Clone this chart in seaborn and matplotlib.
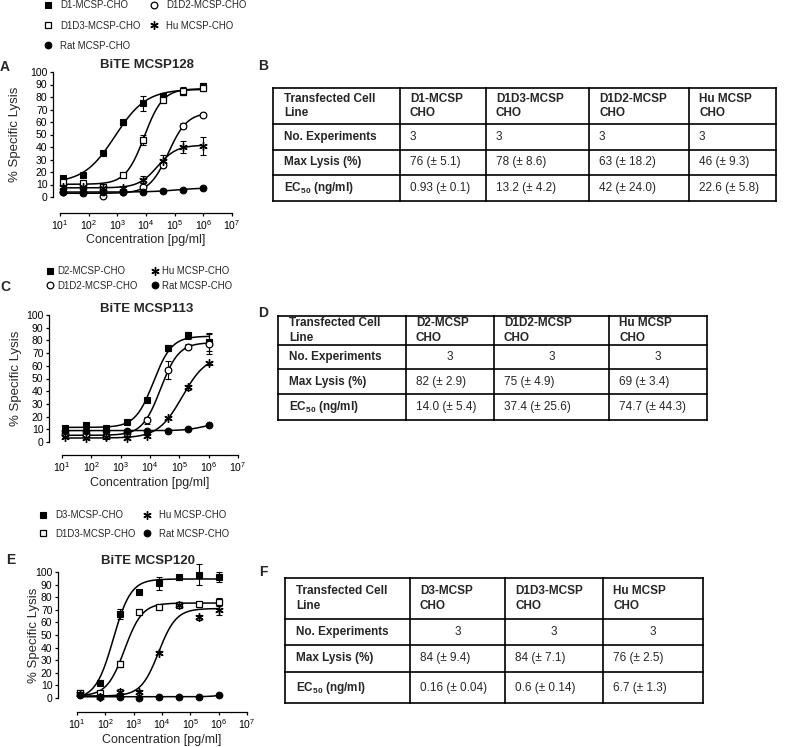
import numpy as np
import pandas as pd
import seaborn as sns
import matplotlib
matplotlib.use("Agg")
import matplotlib.pyplot as plt
from matplotlib.lines import Line2D
from matplotlib.ticker import FixedLocator, NullLocator

# ------------------------------------------------------------
# donnees
# ------------------------------------------------------------
conc = [12.8, 64, 320, 1600, 8000, 40000, 200000, 1000000]  # pg/ml, dilutions 1:5

# A - BiTE MCSP128
a_d1 = [15, 18, 35, 60, 75, 81, 84, 89]
a_d1_err = [1, 1, 1, 2, 6, 2, 2, 2]
a_d1d3 = [12, 11, 8, 18, 46, 78, 85, 87]
a_d1d3_err = [1, 1, 1, 1, 4, 2, 3, 2]
a_d1d2 = [4, 3, 1, 4, 8, 26, 57, 66]
a_d1d2_err = [1, 1, 1, 1, 3, 2, 2, 1]
a_hu = [8, 8, 7, 7, 14, 29, 40, 41]
a_hu_err = [1, 1, 1, 1, 3, 5, 5, 7]
a_rat = [4, 4, 4, 4, 4, 5, 6, 7]
a_rat_err = [0.5, 0.5, 0.5, 0.5, 0.5, 0.5, 0.5, 0.5]

# C - BiTE MCSP113
c_d2 = [11, 13, 11, 16, 33, 74, 84, 79]
c_d2_err = [1, 1, 1, 1, 1, 2, 3, 7]
c_d1d2 = [6, 6, 5, 7, 17, 57, 75, 77]
c_d1d2_err = [1, 1, 1, 1, 3, 7, 2, 8]
c_hu = [4, 3, 4, 3, 5, 19, 43, 62]
c_hu_err = [1, 1, 1, 1, 1, 1, 2, 1]
c_rat = [9, 9, 9, 9, 9, 9, 10, 13]
c_rat_err = [0.5, 0.5, 0.5, 0.5, 0.5, 0.5, 0.5, 0.5]

# E - BiTE MCSP120
e_d3 = [4, 12, 67, 84, 91, 96, 98, 96]
e_d3_err = [1, 2, 4, 1, 5, 2, 8, 4]
e_d1d3 = [4, 4, 27, 68, 72, 74, 75, 76]
e_d1d3_err = [1, 1, 2, 1, 1, 1, 1, 3]
e_hu = [3, 1, 5, 5, 36, 74, 64, 70]
e_hu_err = [1, 1, 2, 1, 1, 2, 2, 4]
e_rat = [2, 1, 1, 0, 1, 1, 1, 2]
e_rat_err = [0.5, 0.5, 0.5, 0.5, 0.5, 0.5, 0.5, 0.5]

# tableaux
row_labels = ["Transfected Cell\nLine", "No. Experiments", "Max Lysis (%)",
              r"EC$_{\mathbf{50}}$ (ng/ml)"]
b_cols = ["D1-MCSP\nCHO", "D1D3-MCSP\nCHO", "D1D2-MCSP\nCHO", "Hu MCSP\nCHO"]
b_exp = ["3", "3", "3", "3"]
b_max = ["76 (± 5.1)", "78 (± 8.6)", "63 (± 18.2)", "46 (± 9.3)"]
b_ec50 = ["0.93 (± 0.1)", "13.2 (± 4.2)", "42 (± 24.0)", "22.6 (± 5.8)"]
d_cols = ["D2-MCSP\nCHO", "D1D2-MCSP\nCHO", "Hu MCSP\nCHO"]
d_exp = ["3", "3", "3"]
d_max = ["82 (± 2.9)", "75 (± 4.9)", "69 (± 3.4)"]
d_ec50 = ["14.0 (± 5.4)", "37.4 (± 25.6)", "74.7 (± 44.3)"]
f_cols = ["D3-MCSP\nCHO", "D1D3-MCSP\nCHO", "Hu MCSP\nCHO"]
f_exp = ["3", "3", "3"]
f_max = ["84 (± 9.4)", "84 (± 7.1)", "76 (± 2.5)"]
f_ec50 = ["0.16 (± 0.04)", "0.6 (± 0.14)", "6.7 (± 1.3)"]

# ------------------------------------------------------------
# style
# ------------------------------------------------------------
sns.set_theme(style="ticks")
plt.rcParams["font.family"] = ["Liberation Sans", "DejaVu Sans"]
plt.rcParams["mathtext.fontset"] = "custom"
plt.rcParams["mathtext.rm"] = "Liberation Sans"
plt.rcParams["mathtext.it"] = "Liberation Sans:italic"
plt.rcParams["mathtext.bf"] = "Liberation Sans:bold"

W, H = 793, 747
fig = plt.figure(figsize=(W / 100, H / 100), dpi=100)

STAR = (6, 2, 0)
STYLE = {
    "D1-MCSP-CHO": dict(marker="s", mfc="black", ms=4.8, mew=0.8),
    "D2-MCSP-CHO": dict(marker="s", mfc="black", ms=4.8, mew=0.8),
    "D3-MCSP-CHO": dict(marker="s", mfc="black", ms=4.8, mew=0.8),
    "D1D3-MCSP-CHO": dict(marker="s", mfc="white", ms=4.8, mew=0.9),
    "D1D2-MCSP-CHO": dict(marker="o", mfc="white", ms=4.8, mew=0.9),
    "Hu MCSP-CHO": dict(marker=STAR, mfc="black", ms=6.0, mew=1.0),
    "Rat MCSP-CHO": dict(marker="o", mfc="black", ms=4.8, mew=0.8),
}


def fit4pl(x, y):
    # ajustement sigmoide 4 parametres (grille sur EC50 / pente, moindres carres pour bas / haut)
    lx = np.log10(np.asarray(x, float))
    y = np.asarray(y, float)
    cs, hs = np.meshgrid(np.linspace(1, 8, 351), np.linspace(0.6, 1.4, 41))
    cs, hs = cs.ravel(), hs.ravel()
    S = 1 / (1 + 10 ** ((cs[:, None] - lx[None, :]) * hs[:, None]))
    Sm = S.mean(1)
    ym = y.mean()
    a = ((S - Sm[:, None]) * (y - ym)).sum(1) / (((S - Sm[:, None]) ** 2).sum(1) + 1e-12)
    b = ym - a * Sm
    res = ((b[:, None] + a[:, None] * S - y) ** 2).sum(1)
    k = np.nanargmin(res)
    return b[k], b[k] + a[k], cs[k], hs[k]


def px_axes(x0, x1, ytop, ybot):
    return fig.add_axes([x0 / W, 1 - ybot / H, (x1 - x0) / W, (ybot - ytop) / H])


def draw_panel(ax, series, title, title_x, title_pad, off_left, off_bottom, ylab_x, xlab_y):
    xs = np.logspace(np.log10(conc[0]), np.log10(conc[-1]), 200)
    for name, vals, errs in series:
        bot, top, c50, hill = fit4pl(conc, vals)
        curve = pd.DataFrame({"x": xs, "y": bot + (top - bot) / (1 + 10 ** ((c50 - np.log10(xs)) * hill))})
        sns.lineplot(data=curve, x="x", y="y", ax=ax, color="black", lw=1.1, zorder=2)
    for name, vals, errs in series:
        st = STYLE[name]
        ax.errorbar(conc, vals, yerr=errs, fmt="none", ecolor="black", elinewidth=0.8,
                    capsize=2.2, capthick=0.8, zorder=3, clip_on=False)
        ax.plot(conc, vals, ls="none", marker=st["marker"], ms=st["ms"], mfc=st["mfc"],
                mec="black", mew=st["mew"], zorder=4, clip_on=False)
    ax.set_xscale("log")
    ax.set_xlim(10, 1e7)
    ax.set_ylim(0, 100)
    ax.xaxis.set_major_locator(FixedLocator([1e1, 1e2, 1e3, 1e4, 1e5, 1e6, 1e7]))
    ax.xaxis.set_minor_locator(NullLocator())
    ax.set_yticks(range(0, 101, 10))
    for s in ["top", "right"]:
        ax.spines[s].set_visible(False)
    ax.spines["left"].set_position(("outward", off_left * 0.72))
    ax.spines["bottom"].set_position(("outward", off_bottom * 0.72))
    ax.spines["left"].set_bounds(0, 100)
    ax.spines["bottom"].set_bounds(10, 1e7)
    for s in ["left", "bottom"]:
        ax.spines[s].set_linewidth(0.9)
        ax.spines[s].set_color("black")
    ax.tick_params(axis="both", labelsize=7.5, length=2.5, width=0.9, pad=1.5, colors="black")
    ax.set_facecolor("none")
    ax.set_title(title, fontsize=9.5, fontweight="bold", pad=title_pad, x=title_x)
    ax.set_xlabel("Concentration [pg/ml]", fontsize=9)
    ax.set_ylabel("% Specific Lysis", fontsize=9.5)
    ax.xaxis.set_label_coords(0.5, xlab_y)
    ax.xaxis.label.set_va("center")
    ax.yaxis.set_label_coords(ylab_x, 0.5)
    ax.yaxis.label.set_va("center")


def add_legend(names, x0, ytop, textpad, colspace, labspace):
    handles = [Line2D([], [], ls="none", color="black", mec="black", marker=STYLE[n]["marker"],
                      ms=STYLE[n]["ms"], mfc=STYLE[n]["mfc"], mew=STYLE[n]["mew"]) for n in names]
    fig.legend(handles, names, loc="upper left", bbox_to_anchor=(x0 / W, 1 - ytop / H),
               bbox_transform=fig.transFigure, ncol=2, frameon=False, fontsize=6.9,
               handlelength=1.0, handletextpad=textpad, columnspacing=colspace,
               labelspacing=labspace, borderpad=0, borderaxespad=0)


# ------------------------------------------------------------
# panneaux A, C, E
# ------------------------------------------------------------
axA = px_axes(60, 232, 72, 197)
draw_panel(axA, [("D1-MCSP-CHO", a_d1, a_d1_err), ("D1D3-MCSP-CHO", a_d1d3, a_d1d3_err),
                 ("D1D2-MCSP-CHO", a_d1d2, a_d1d2_err), ("Hu MCSP-CHO", a_hu, a_hu_err),
                 ("Rat MCSP-CHO", a_rat, a_rat_err)],
           "BiTE MCSP128", 0.506, 3.0, 7, 16, -0.26, -0.344)
add_legend(["D1-MCSP-CHO", "D1D3-MCSP-CHO", "Rat MCSP-CHO", "D1D2-MCSP-CHO", "Hu MCSP-CHO"],
           43, 0.5, 0.77, 0.95, 1.05)

axC = px_axes(62, 238, 315, 442)
draw_panel(axC, [("D2-MCSP-CHO", c_d2, c_d2_err), ("D1D2-MCSP-CHO", c_d1d2, c_d1d2_err),
                 ("Hu MCSP-CHO", c_hu, c_hu_err), ("Rat MCSP-CHO", c_rat, c_rat_err)],
           "BiTE MCSP113", 0.483, 1.5, 13, 13, -0.26, -0.323)
add_legend(["D2-MCSP-CHO", "D1D2-MCSP-CHO", "Hu MCSP-CHO", "Rat MCSP-CHO"],
           45, 266.5, 0.3, 1.25, 0.45)

axE = px_axes(77, 247, 572, 698)
draw_panel(axE, [("D3-MCSP-CHO", e_d3, e_d3_err), ("D1D3-MCSP-CHO", e_d1d3, e_d1d3_err),
                 ("Hu MCSP-CHO", e_hu, e_hu_err), ("Rat MCSP-CHO", e_rat, e_rat_err)],
           "BiTE MCSP120", 0.418, 6.0, 19, 14, -0.25, -0.333)
add_legend(["D3-MCSP-CHO", "D1D3-MCSP-CHO", "Hu MCSP-CHO", "Rat MCSP-CHO"],
           38, 510.5, 0.77, 0.75, 0.85)

# ------------------------------------------------------------
# tableaux B, D, F
# ------------------------------------------------------------
axT = fig.add_axes([0, 0, 1, 1], zorder=-1)
axT.set_xlim(0, W)
axT.set_ylim(H, 0)
axT.axis("off")


def draw_table(xs, ys, cols, exp, mx, ec, center_exp):
    for y in ys:
        axT.plot([xs[0], xs[-1]], [y, y], color="black", lw=1.2, solid_capstyle="projecting")
    for x in xs:
        axT.plot([x, x], [ys[0], ys[-1]], color="black", lw=1.2, solid_capstyle="projecting")
    body = [cols, exp, mx, ec]
    for i in range(4):
        yc = (ys[i] + ys[i + 1]) / 2
        axT.text(xs[0] + 11, yc, row_labels[i], ha="left", va="center", fontsize=8.5,
                 fontweight="bold", linespacing=1.25)
        for j, val in enumerate(body[i]):
            bold = i == 0
            if i == 1 and center_exp:
                axT.text((xs[j + 1] + xs[j + 2]) / 2, yc, val, ha="center", va="center", fontsize=8.5)
            else:
                axT.text(xs[j + 1] + 10, yc, val, ha="left", va="center", fontsize=8.5,
                         fontweight="bold" if bold else "normal", linespacing=1.25)


draw_table([273, 400, 486, 589, 689, 776], [88, 124, 150, 175, 201], b_cols, b_exp, b_max, b_ec50, False)
draw_table([278, 406, 494, 609, 707], [316, 345, 369, 394, 420], d_cols, d_exp, d_max, d_ec50, True)
draw_table([285, 410, 505, 603, 703], [578, 619, 645, 672, 703], f_cols, f_exp, f_max, f_ec50, True)

# lettres des panneaux
for letter, (x, y) in {"A": (5, 67), "B": (263, 66), "C": (5, 287), "D": (263, 313),
                       "E": (11, 560), "F": (263, 572)}.items():
    fig.text(x / W, 1 - y / H, letter, ha="center", va="center", fontsize=10, fontweight="bold")

fig.savefig("out.png", dpi=100)
